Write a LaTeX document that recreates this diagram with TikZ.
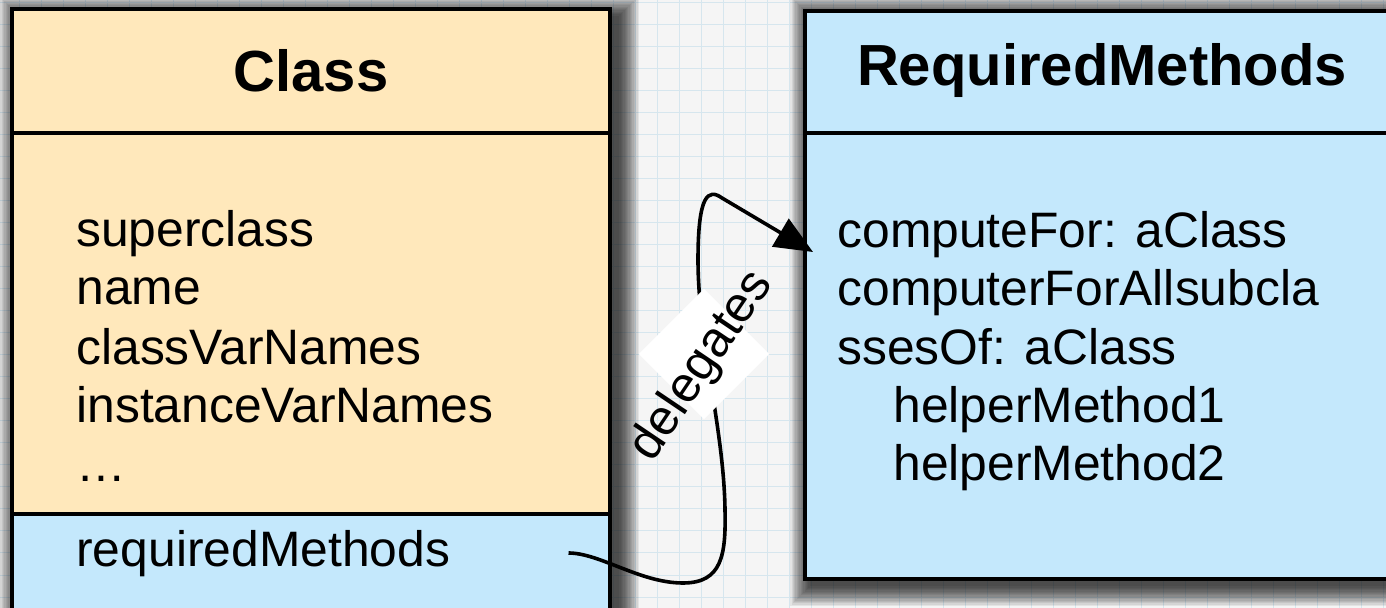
\documentclass[tikz,border=0pt]{standalone}
\usepackage{fontspec}
\setmainfont{Liberation Sans}
\usetikzlibrary{arrows.meta,calc}
\definecolor{cream}{HTML}{FFE8BB}
\definecolor{skyb}{HTML}{C4E8FC}
\definecolor{bggray}{HTML}{F5F5F5}
\definecolor{gridc}{HTML}{D6E6EE}
\tikzset{
  box/.style={draw=black, line width=1.8pt},
  body/.style={font=\fontsize{24.9}{29}\selectfont, anchor=base west, inner sep=0pt},
  title/.style={font=\fontsize{29}{34}\selectfont\bfseries, inner sep=0pt},
  conn/.style={line width=1.8pt, -{Triangle[length=19pt,width=16pt]}},
}
\newcommand{\myshadow}[4]{%
  \foreach \i in {1,...,16}{%
    \fill[black, opacity=0.065] ({#1+8-\i*1.3},{#2+8-\i*1.3}) rectangle ({#3+8+\i*1.3},{#4+8+\i*1.3});
  }}
\begin{document}
\begin{tikzpicture}[x=0.5pt,y=-0.5pt]
\useasboundingbox (0,0) rectangle (1386,608);
\fill[bggray] (0,0) rectangle (1386,608);
\foreach \g in {19,41,...,1386} \draw[gridc, line width=0.5pt] (\g,0) -- (\g,608);
\foreach \g in {3,25,...,608} \draw[gridc, line width=0.5pt] (0,\g) -- (1386,\g);
% shadows
\myshadow{12}{9}{610}{640}
\myshadow{803}{9}{1420}{577}
% Class box
\fill[cream] (12,9) rectangle (610,514);
\fill[skyb] (12,514) rectangle (610,640);
\draw[box] (12,640) -- (12,9) -- (610,9) -- (610,640);
\draw[box] (12,133) -- (610,133);
\draw[box] (12,514) -- (610,514);
\node[title] (ct) at (311,71) {Class};
\node[body] (a1) at (76,247) {superclass};
\node[body] (a2) at (76,305) {name};
\node[body] (a3) at (76,365) {classVarNames};
\node[body] (a4) at (76,423) {instanceVarNames};
\node[body] (a5) at (76,482) {\dots};
\node[body] (rm) at (76,567) {requiredMethods};
% RequiredMethods box
\node[box, fill=skyb, minimum width=308.5pt, minimum height=284pt, anchor=north west, inner sep=0pt] (RM) at (803,9) {};
\draw[box] (803,133) -- (1420,133);
\node[title] (rt) at (1102,71) {RequiredMethods};
\node[body] (b1) at (837,248) {computeFor: aClass};
\node[body] (b2) at (837,306) {computerForAllsubcla};
\node[body] (b3) at (837,365) {ssesOf: aClass};
\node[body] (b4) at (893,423) {helperMethod1};
\node[body] (b5) at (893,481) {helperMethod2};
% connector
\coordinate (s) at ($(rm.base east)+(118,-14)$);
\coordinate (e) at (813,252);
\draw[conn] (s) .. controls (600,553) and (640,583) .. (683,583)
  .. controls (722,583) and (726,555) .. (725,510)
  .. controls (724,430) and (698,340) .. (698,260)
  .. controls (698,195) and (708,188) .. (722,198) -- (e);
\node[fill=white, rotate=45, minimum width=46pt, minimum height=46pt, inner sep=0pt] (lbl) at (704,354) {};
\node[rotate=56, font=\fontsize{25}{29}\selectfont, inner sep=0pt] (lt) at (702,366) {delegates};
\end{tikzpicture}
\end{document}
